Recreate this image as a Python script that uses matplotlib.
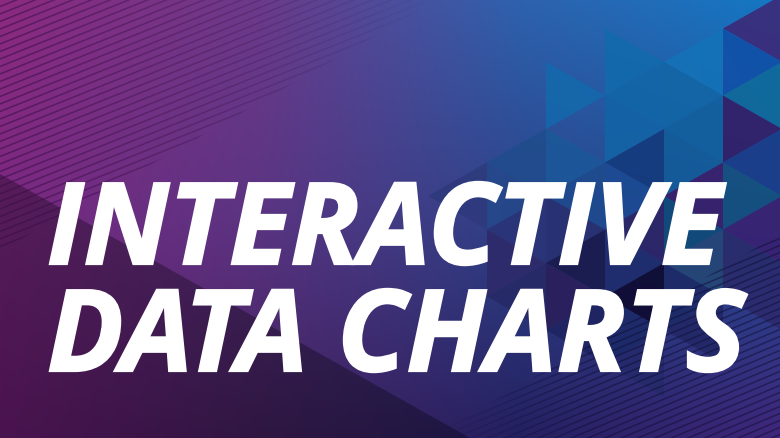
import numpy as np
import matplotlib
matplotlib.use("Agg")
import matplotlib.pyplot as plt
import matplotlib.patheffects as pe
from matplotlib.colors import to_rgb, to_rgba
from matplotlib.collections import LineCollection
from matplotlib.patches import Polygon

W, H = 780, 439

# title lines of the banner
title_lines = ["INTERACTIVE", "DATA CHARTS"]
title_baselines = [265, 372]

# background colour anchors (rows: y=0, 220, 439 / cols: x=0, 260, 520, 780)
bg_top = ["#8C2A80", "#6C3A8A", "#2E62AE", "#1478C4"]
bg_mid = ["#7A2880", "#5A3482", "#2C4288", "#1E4C92"]
bg_bot = ["#6A1C72", "#44205E", "#242060", "#40267A"]

# triangle mosaic: (strip, row, kind, colour)
triangles = [
    (0, 1, "R", "#1468AC"), (0, 2, "R", "#1B5899"), (0, 2, "L", "#1E4A8E"),
    (0, 3, "R", "#283070"), (0, 3, "L", "#1A1A4C"), (0, 4, "R", "#2A1E5A"),
    (0, 4, "L", "#1E2460"),
    (1, 0, "R", "#126AAC"), (1, 0, "L", "#1266A8"), (1, 1, "R", "#1364A6"),
    (1, 1, "L", "#143A7C"), (1, 2, "R", "#1C4A92"), (1, 2, "L", "#2C2466"),
    (1, 3, "R", "#1E2C6C"), (1, 3, "L", "#0E0A30"), (1, 4, "R", "#1C2A68"),
    (1, 4, "L", "#242A6A"),
    (2, -1, "L", "#1472B8"), (2, 0, "R", "#1266A6"), (2, 0, "L", "#12609E"),
    (2, 1, "R", "#135C9A"), (2, 1, "L", "#3A1E6A"), (2, 2, "R", "#0F4A78"),
    (2, 2, "L", "#264676"), (2, 3, "R", "#1C2A66"), (2, 3, "L", "#222866"),
    (3, -2, "L", "#3C2A78"), (3, -1, "R", "#1150A8"), (3, -1, "L", "#106A9A"),
    (3, 0, "R", "#341E66"), (3, 0, "L", "#1A3C88"), (3, 1, "R", "#14507E"),
    (3, 1, "L", "#3A2070"), (3, 2, "R", "#2A2A6A"), (3, 2, "L", "#2C2A6E"),
    (-1, 2, "L", "#204C8C"), (-1, 3, "R", "#25488A"), (-1, 3, "L", "#2A3478"),
    (-1, 4, "R", "#2E2A6A"), (-1, 4, "L", "#262A66"),
    (-2, 3, "L", "#2E3A7C"),
]

# triangle grid geometry
X0, COL_W, SIDE, Y0 = 546, 59, 67, -4


def vx(m):
    return X0 + m * COL_W


def vy(m, j):
    return Y0 + m * SIDE / 2 + j * SIDE


def tri_pts(m, j, kind):
    if kind == "R":
        return [(vx(m), vy(m, j)), (vx(m), vy(m, j + 1)), (vx(m + 1), vy(m + 1, j))]
    return [(vx(m + 1), vy(m + 1, j)), (vx(m + 1), vy(m + 1, j + 1)), (vx(m), vy(m, j + 1))]


def stripes(ax, intercepts, slope, color, a0, fade, clip_poly):
    segs, cols = [], []
    xs = np.arange(0, W + 10, 10)
    for c in intercepts:
        for x1, x2 in zip(xs[:-1], xs[1:]):
            segs.append([(x1, c + slope * x1), (x2, c + slope * x2)])
            a = a0 * fade((x1 + x2) / 2)
            cols.append(to_rgba(color, max(0.0, min(1.0, a))))
    lc = LineCollection(segs, colors=cols, linewidths=1.1, zorder=3)
    ax.add_collection(lc)
    clip = Polygon(clip_poly, closed=True, transform=ax.transData, fill=False, lw=0)
    ax.add_patch(clip)
    lc.set_clip_path(clip)


fig = plt.figure(figsize=(W / 100, H / 100), dpi=100)
ax = fig.add_axes([0, 0, 1, 1])
ax.set_xlim(0, W)
ax.set_ylim(H, 0)
ax.axis("off")

grid = np.array([[to_rgb(c) for c in row] for row in (bg_top, bg_mid, bg_bot)])
ax.imshow(grid, extent=(-130, W + 130, H + 110, -110), interpolation="bilinear",
          aspect="auto", zorder=0)

# darker lower-left wedge
ax.add_patch(Polygon([(0, 175), (470, 439), (0, 439)], closed=True,
                     color="black", alpha=0.3, lw=0, zorder=1))

for m, j, kind, col in triangles:
    ax.add_patch(Polygon(tri_pts(m, j, kind), closed=True, facecolor=col,
                         edgecolor="none", alpha=0.9, zorder=2))

stripes(ax, np.arange(0, 250, 7.5), -0.4, "#3A0E48", 0.6,
        lambda x: 1 - x / 440, [(0, 0), (440, 0), (0, 252)])
stripes(ax, np.arange(560, 800, 7), -0.42, "#10103A", 0.55,
        lambda x: min(1.0, (x - 430) / 160), [(430, 439), (780, 235), (780, 439)])

for line, base in zip(title_lines, title_baselines):
    ax.text(47, base, line, color="white", fontsize=81.5, fontfamily="Open Sans",
            fontweight="bold", fontstyle="italic", va="baseline", ha="left", zorder=5,
            path_effects=[pe.withStroke(linewidth=1.6, foreground="white",
                                        joinstyle="miter")])

fig.savefig("out.png", dpi=100)
